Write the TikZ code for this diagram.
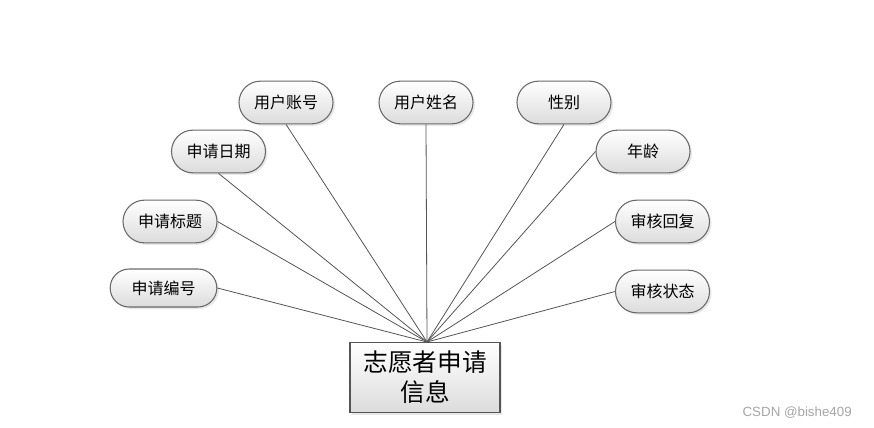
\documentclass[tikz,border=0pt]{standalone}
\usepackage{fontspec}
\newfontfamily\cjk{Noto Sans CJK SC}
\newfontfamily\wmfont{Liberation Sans}
\usetikzlibrary{shapes.misc,shadows}
\definecolor{edgegray}{HTML}{6A6A6A}
\definecolor{linegray}{HTML}{555555}
\definecolor{shadebot}{HTML}{DCDCDC}
\begin{document}
\begin{tikzpicture}[x=0.75pt,y=-0.75pt,
  attr/.style={rounded rectangle, draw=edgegray, line width=0.8pt,
    top color=white, bottom color=shadebot,
    minimum width=70.5pt, minimum height=32pt, inner sep=0pt,
    font=\cjk\fontsize{12pt}{14pt}\selectfont,
    drop shadow={opacity=0.18, shadow xshift=1.5pt, shadow yshift=-1.5pt}},
  entity/.style={rectangle, draw=linegray, line width=0.8pt,
    top color=white, bottom color=shadebot,
    minimum width=112.5pt, minimum height=52.5pt, inner sep=0pt,
    align=center, font=\cjk\fontsize{18.5pt}{22.5pt}\selectfont,
    drop shadow={opacity=0.18, shadow xshift=1.5pt, shadow yshift=-1.5pt}},
  conn/.style={draw=linegray, line width=0.6pt}]
\useasboundingbox (0,0) rectangle (874,428);
\fill[white] (0,0) rectangle (874,428);

\node[attr] (zh) at (286,102.5) {用户账号};
\node[attr] (xm) at (426,102.5) {用户姓名};
\node[attr] (xb) at (564,102.5) {性别};
\node[attr] (rq) at (218.5,151.5) {申请日期};
\node[attr] (nl) at (643,151.5) {年龄};
\node[attr] (bt) at (170,221.5) {申请标题};
\node[attr] (hf) at (662.5,221.5) {审核回复};
\node[attr, minimum width=80pt, minimum height=28.5pt] (bh) at (163.5,288) {申请编号};
\node[attr] (zt) at (662.5,291.5) {审核状态};

\node[entity] (main) at (425,377.5) {志愿者申请\\信息};
\coordinate (hub) at (427,342);

\draw[conn] (hub) -- (zh.south);
\draw[conn] (hub) -- (xm.south);
\draw[conn] (hub) -- (xb.south);
\draw[conn] (hub) -- (rq.south);
\draw[conn] (hub) -- (nl.west);
\draw[conn] (hub) -- (bt.east);
\draw[conn] (hub) -- (hf.west);
\draw[conn] (hub) -- (bh.east);
\draw[conn] (hub) -- (zt.west);

\node[font=\wmfont\fontsize{10pt}{12pt}\selectfont, text=gray!70, anchor=east, inner sep=0pt] (wm) at (852,413) {CSDN @bishe409};
\end{tikzpicture}
\end{document}
